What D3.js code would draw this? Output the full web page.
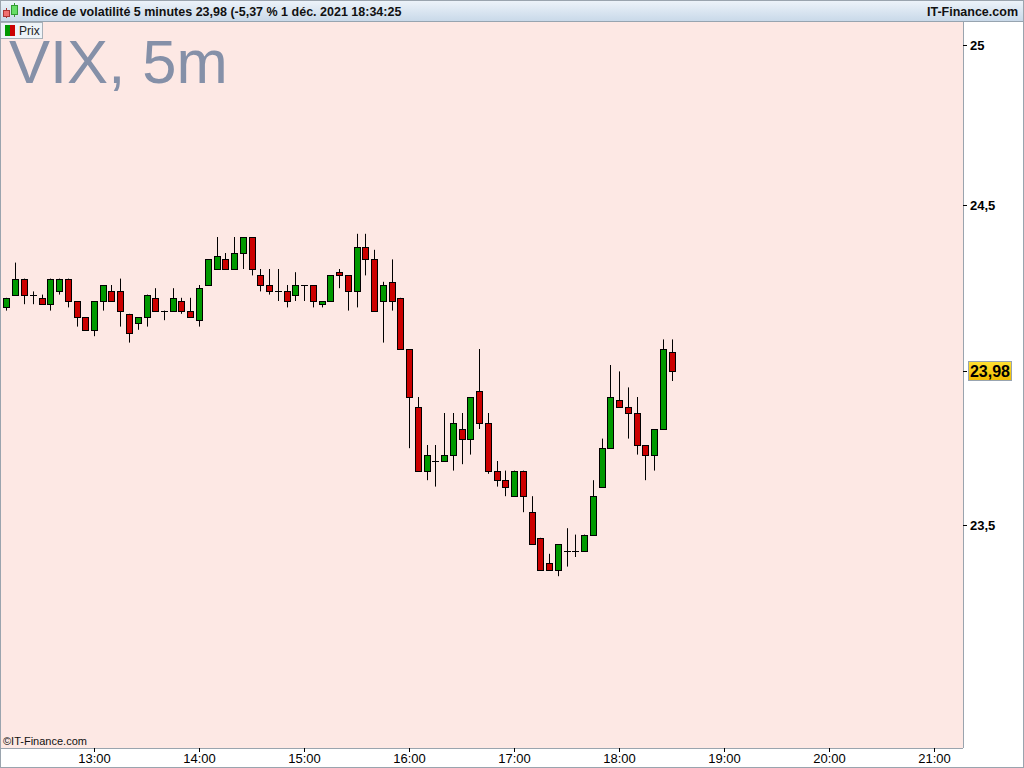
<!DOCTYPE html>
<html><head><meta charset="utf-8">
<script src="https://cdn.jsdelivr.net/npm/d3@7"></script>
<style>
html,body{margin:0;padding:0;background:#fff;}
svg{display:block;}
</style>
</head><body>
<svg id="c" width="1024" height="768"></svg>
<script>
// ---- data ----
const startTime = "2021-12-01T12:10:00";
const opens  = [24.18,24.22,24.27,24.22,24.21,24.19,24.23,24.27,24.20,24.15,24.11,24.20,24.23,24.23,24.16,24.13,24.15,24.21,24.17,24.17,24.20,24.17,24.14,24.25,24.30,24.33,24.30,24.35,24.40,24.28,24.25,24.23,24.23,24.22,24.25,24.25,24.19,24.20,24.29,24.28,24.23,24.37,24.33,24.20,24.26,24.21,24.05,23.87,23.67,23.70,23.70,23.72,23.80,23.77,23.92,23.82,23.67,23.64,23.59,23.67,23.54,23.46,23.38,23.36,23.42,23.42,23.42,23.47,23.62,23.74,23.89,23.87,23.85,23.75,23.72,23.80,24.04];
const highs  = [24.21,24.32,24.27,24.23,24.22,24.27,24.27,24.27,24.20,24.15,24.20,24.25,24.25,24.27,24.16,24.15,24.22,24.24,24.17,24.24,24.21,24.21,24.25,24.33,24.40,24.35,24.40,24.40,24.40,24.30,24.30,24.30,24.25,24.29,24.25,24.25,24.20,24.28,24.30,24.28,24.41,24.41,24.36,24.26,24.33,24.21,24.05,23.90,23.75,23.75,23.85,23.85,23.85,23.90,24.05,23.85,23.70,23.67,23.67,23.67,23.59,23.46,23.41,23.44,23.49,23.47,23.47,23.64,23.77,24.00,23.98,23.93,23.90,23.75,23.80,24.08,24.08];
const lows   = [24.17,24.22,24.19,24.19,24.19,24.17,24.22,24.18,24.12,24.11,24.09,24.17,24.20,24.12,24.07,24.11,24.12,24.17,24.14,24.17,24.16,24.15,24.12,24.25,24.30,24.30,24.30,24.30,24.28,24.23,24.22,24.20,24.18,24.20,24.20,24.18,24.18,24.20,24.24,24.17,24.18,24.28,24.17,24.07,24.17,24.05,23.74,23.67,23.64,23.62,23.70,23.67,23.69,23.72,23.80,23.66,23.62,23.59,23.59,23.54,23.44,23.36,23.36,23.34,23.37,23.40,23.42,23.47,23.62,23.74,23.87,23.77,23.72,23.64,23.67,23.80,23.95];
const closes = [24.21,24.27,24.22,24.22,24.19,24.27,24.27,24.20,24.15,24.11,24.20,24.25,24.20,24.17,24.10,24.15,24.22,24.17,24.17,24.21,24.17,24.15,24.24,24.33,24.34,24.30,24.35,24.40,24.30,24.25,24.23,24.23,24.20,24.25,24.25,24.20,24.20,24.28,24.28,24.23,24.37,24.33,24.17,24.25,24.20,24.05,23.90,23.67,23.72,23.70,23.72,23.82,23.77,23.90,23.82,23.67,23.64,23.62,23.67,23.59,23.44,23.36,23.36,23.44,23.42,23.42,23.47,23.59,23.74,23.90,23.87,23.85,23.75,23.72,23.80,24.05,23.98];
const priceTicks = [25, 24.5, 23.5];
const timeTicks = ["13:00","14:00","15:00","16:00","17:00","18:00","19:00","20:00","21:00"];
const lastPrice = 23.98;
const titleText = "Indice de volatilité 5 minutes 23,98 (-5,37 % 1 déc. 2021 18:34:25";
const brandText = "IT-Finance.com";
const bigLabel = "VIX, 5m";
const legendLabel = "Prix";
const copyright = "©IT-Finance.com";

// ---- build ----
const svg = d3.select("#c");
const W = 1024, H = 768;
const plotL = 0, plotR = 963, plotT = 22, plotB = 748;
const t0 = new Date(startTime);
const candles = opens.map((o, i) => ({
  t: new Date(t0.getTime() + i * 5 * 60000), o, h: highs[i], l: lows[i], c: closes[i]
}));
const x = d3.scaleTime()
  .domain([new Date("2021-12-01T12:00:00"), new Date("2021-12-01T21:00:00")])
  .range([-11, 934]);
const y = d3.scaleLinear().domain([23, 25]).range([685, 45]);
const fmt = d3.format(".2f");
const comma = s => String(s).replace(".", ",");

// backgrounds
svg.append("rect").attr("x",0).attr("y",0).attr("width",W).attr("height",H).attr("fill","#fff");
svg.append("rect").attr("x",plotL).attr("y",plotT).attr("width",plotR-plotL).attr("height",plotB-plotT).attr("fill","#fde8e4");

// header
const defs = svg.append("defs");
const hg = defs.append("linearGradient").attr("id","hg").attr("x1",0).attr("y1",0).attr("x2",0).attr("y2",1);
hg.append("stop").attr("offset","0%").attr("stop-color","#eef4fa");
hg.append("stop").attr("offset","100%").attr("stop-color","#c9d9e9");
const yg = defs.append("linearGradient").attr("id","yg").attr("x1",0).attr("y1",0).attr("x2",0).attr("y2",1);
yg.append("stop").attr("offset","0%").attr("stop-color","#ffe033");
yg.append("stop").attr("offset","100%").attr("stop-color","#f2bb00");
svg.append("rect").attr("x",0).attr("y",0).attr("width",W).attr("height",21).attr("fill","url(#hg)");
svg.append("line").attr("x1",0).attr("x2",W).attr("y1",21.5).attr("y2",21.5).attr("stroke","#97a4b0");

// header icon
const ic = svg.append("g");
ic.append("line").attr("x1",6.5).attr("x2",6.5).attr("y1",8).attr("y2",18).attr("stroke","#a33");
ic.append("rect").attr("x",3.5).attr("y",10.5).attr("width",6).attr("height",6).attr("fill","#f07070").attr("stroke","#a33");
ic.append("line").attr("x1",14.5).attr("x2",14.5).attr("y1",3).attr("y2",17).attr("stroke","#393");
ic.append("rect").attr("x",11.5).attr("y",5.5).attr("width",6).attr("height",9).attr("fill","#66dd66").attr("stroke","#393");

svg.append("text").attr("x",22).attr("y",16).text(titleText)
  .attr("font-family","Liberation Sans, Arial, sans-serif").attr("font-weight","bold").attr("font-size",12.5).attr("fill","#111");
svg.append("text").attr("x",1018).attr("y",16).attr("text-anchor","end").text(brandText)
  .attr("font-family","Liberation Sans, Arial, sans-serif").attr("font-weight","bold").attr("font-size",12.5).attr("fill","#111");

// big label (drawn beneath the legend box, as in the reference)
svg.append("text").attr("x",9).attr("y",83).text(bigLabel)
  .attr("font-family","Liberation Sans, Arial, sans-serif").attr("font-size",61.5).attr("fill","#8590a8");

// legend box
svg.append("rect").attr("x",0.5).attr("y",22.5).attr("width",42).attr("height",16).attr("fill","#eef3f8").attr("stroke","#a8b0b8");
svg.append("rect").attr("x",5).attr("y",25).attr("width",5).attr("height",11).attr("fill","#009900");
svg.append("rect").attr("x",10).attr("y",25).attr("width",5).attr("height",11).attr("fill","#cc0000");
svg.append("text").attr("x",19).attr("y",35).text(legendLabel)
  .attr("font-family","Liberation Sans, Arial, sans-serif").attr("font-size",12).attr("fill","#222");

// candles
const g = svg.append("g");
const bw = 6;
const cg = g.selectAll("g.c").data(candles).join("g").attr("class","c");
cg.append("line")
  .attr("x1", d => Math.round(x(d.t)) + 0.5).attr("x2", d => Math.round(x(d.t)) + 0.5)
  .attr("y1", d => y(d.h)).attr("y2", d => y(d.l))
  .attr("stroke","#000").attr("stroke-width",1);
cg.each(function(d){
  const sel = d3.select(this);
  const cx = Math.round(x(d.t));
  const top = Math.round(y(Math.max(d.o,d.c)));
  const bot = Math.round(y(Math.min(d.o,d.c)));
  if (d.o === d.c) {
    sel.append("line").attr("x1",cx-3).attr("x2",cx+4).attr("y1",top+0.5).attr("y2",top+0.5)
      .attr("stroke","#000").attr("stroke-width",1);
  } else {
    sel.append("rect").attr("x",cx-3+0.5).attr("y",top+0.5).attr("width",bw).attr("height",Math.max(1,bot-top))
      .attr("fill", d.c > d.o ? "#009900" : "#cc0000").attr("stroke","#000").attr("stroke-width",1);
  }
});

// copyright
svg.append("text").attr("x",3).attr("y",745).text(copyright)
  .attr("font-family","Liberation Sans Narrow, Arial Narrow, Liberation Sans, sans-serif").attr("font-size",11).attr("fill","#111");

// right axis
svg.append("line").attr("x1",plotR+0.5).attr("x2",plotR+0.5).attr("y1",plotT).attr("y2",plotB).attr("stroke","#9aa4ae");
const ya = svg.append("g").attr("transform",`translate(${plotR},0)`)
  .call(d3.axisRight(y).tickValues(priceTicks).tickSize(4).tickPadding(3).tickFormat(d => comma(d)));
ya.select(".domain").remove();
ya.selectAll("text").attr("font-family","Liberation Sans, Arial, sans-serif").attr("font-weight","bold").attr("font-size",13).attr("fill","#000");
ya.selectAll("line").attr("stroke","#000");

// last price label
const ly = y(lastPrice);
svg.append("line").attr("x1",plotR).attr("x2",plotR+4).attr("y1",Math.round(ly)+0.5).attr("y2",Math.round(ly)+0.5).attr("stroke","#000");
svg.append("rect").attr("x",968.5).attr("y",Math.round(ly)-9.5).attr("width",43).attr("height",19)
  .attr("fill","url(#yg)").attr("stroke","#98a4b0");
svg.append("text").attr("x",990).attr("y",Math.round(ly)+6).attr("text-anchor","middle").text(comma(fmt(lastPrice)))
  .attr("font-family","Liberation Sans, Arial, sans-serif").attr("font-weight","bold").attr("font-size",16).attr("fill","#000");

// bottom axis
svg.append("line").attr("x1",0).attr("x2",plotR).attr("y1",plotB+0.5).attr("y2",plotB+0.5).attr("stroke","#9aa4ae");
const parseT = d3.timeParse("%Y-%m-%d %H:%M");
const tickDates = timeTicks.map(s => parseT("2021-12-01 " + s));
const xa = svg.append("g").attr("transform",`translate(0,${plotB})`)
  .call(d3.axisBottom(x).tickValues(tickDates).tickSize(4).tickPadding(2).tickFormat(d3.timeFormat("%H:%M")));
xa.select(".domain").remove();
xa.selectAll("text").attr("font-family","Liberation Sans Narrow, Arial Narrow, Liberation Sans, sans-serif").attr("font-size",13).attr("fill","#000");
xa.selectAll("line").attr("stroke","#000");

// outer border
svg.append("rect").attr("x",0.5).attr("y",0.5).attr("width",W-1).attr("height",H-1).attr("fill","none").attr("stroke","#9aa4ae");
svg.append("line").attr("x1",0.5).attr("x2",0.5).attr("y1",plotT).attr("y2",plotB).attr("stroke","#9aa4ae");
</script>
</body></html>
